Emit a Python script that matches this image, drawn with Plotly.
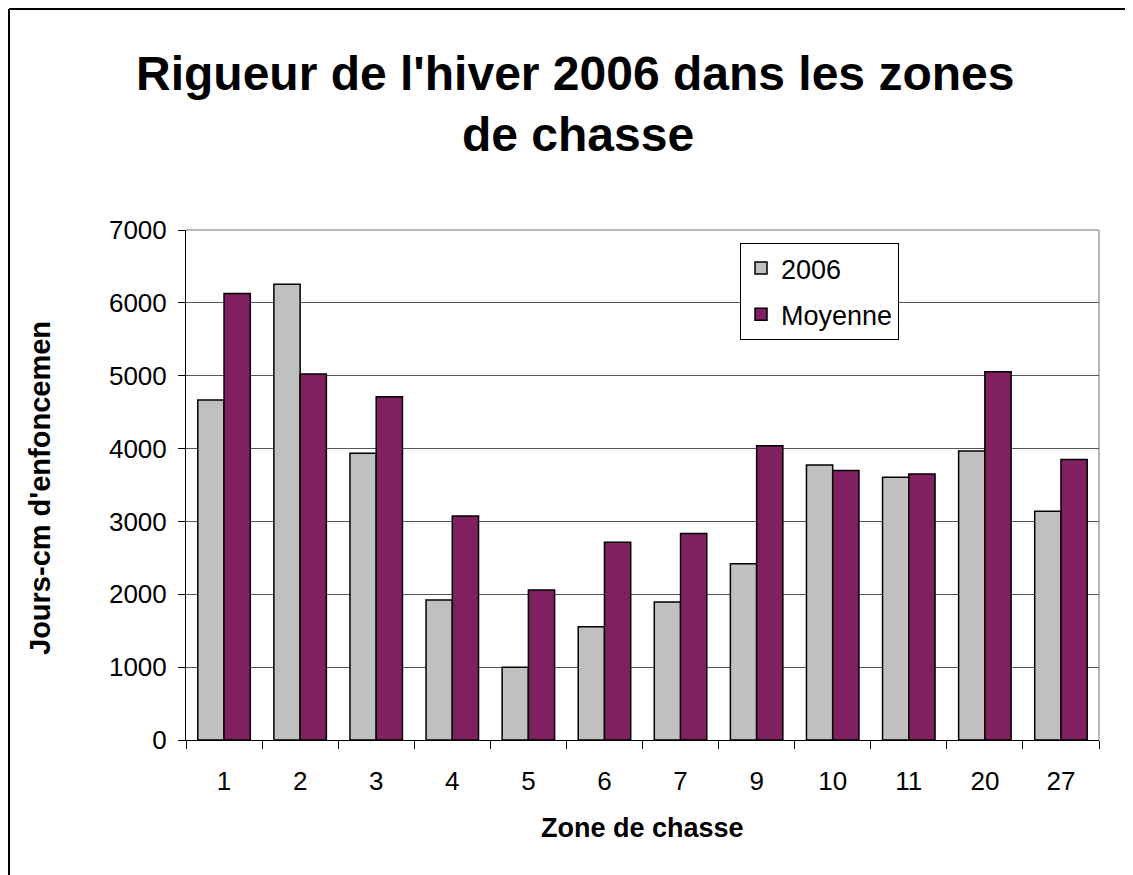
import plotly.graph_objects as go

zones = ["1", "2", "3", "4", "5", "6", "7", "9", "10", "11", "20", "27"]
values_2006 = [4665, 6255, 3935, 1920, 1000, 1555, 1895, 2420, 3775, 3605, 3965, 3140]
values_moyenne = [6130, 5025, 4710, 3075, 2060, 2715, 2835, 4040, 3700, 3650, 5055, 3850]
y_ticks = [0, 1000, 2000, 3000, 4000, 5000, 6000, 7000]

OFF = 8  # page body margin
W, H = 1133 - OFF, 875 - OFF
L, R, T, B = 186 - OFF, 1099 - OFF, 230 - OFF, 740 - OFF


def px_x(p):
    return (p - OFF - L) / (R - L)


def px_y(p):
    return (B - (p - OFF)) / (B - T)


fig = go.Figure()
fig.add_trace(go.Bar(x=zones, y=values_2006, name="2006", legendgroup="a",
                     marker=dict(color="#C0C0C0", line=dict(color="black", width=1.5))))
fig.add_trace(go.Bar(x=zones, y=values_moyenne, name="Moyenne", legendgroup="b",
                     marker=dict(color="#802060", line=dict(color="black", width=1.5))))

fig.update_layout(
    width=W, height=H,
    margin=dict(l=L, r=W - R, t=T, b=H - B, pad=0),
    paper_bgcolor="white", plot_bgcolor="white",
    barmode="group", bargap=0.31, bargroupgap=0,
    font=dict(family="Arial, Liberation Sans, sans-serif", color="black", size=26),
    showlegend=True,
    legend=dict(x=px_x(740), y=px_y(243), xanchor="left", yanchor="top",
                bgcolor="white", bordercolor="black", borderwidth=1,
                font=dict(size=27), itemwidth=30, tracegroupgap=8,
                traceorder="grouped"),
)

fig.update_xaxes(
    type="category", showgrid=False, showline=True, linecolor="black", linewidth=1,
    ticks="outside", tickson="boundaries", ticklen=8, tickcolor="black",
    tickfont=dict(size=26), ticklabelstandoff=18,
)
fig.update_yaxes(
    range=[0, 7000], tickvals=y_ticks, showgrid=True, gridcolor="#555555", gridwidth=1,
    showline=True, linecolor="black", linewidth=1, zeroline=False,
    ticks="outside", ticklen=7, tickcolor="black", tickfont=dict(size=26),
    ticklabelstandoff=6,
)

# plot area border (top/right grey)
fig.add_shape(type="line", xref="paper", yref="paper", x0=0, x1=1, y0=1, y1=1,
              line=dict(color="#A0A0A0", width=1.5), layer="below")
fig.add_shape(type="line", xref="paper", yref="paper", x0=1, x1=1, y0=0, y1=1,
              line=dict(color="#A0A0A0", width=1.5), layer="below")

# chart outer border (top and left visible)
fig.add_shape(type="line", xref="paper", yref="paper", x0=px_x(9), x1=px_x(1140),
              y0=px_y(9), y1=px_y(9), line=dict(color="black", width=2))
fig.add_shape(type="line", xref="paper", yref="paper", x0=px_x(9), x1=px_x(9),
              y0=px_y(9), y1=px_y(880), line=dict(color="black", width=2))

# title lines
fig.add_annotation(text="<b>Rigueur de l'hiver 2006 dans les zones</b>", xref="paper", yref="paper",
                   x=px_x(575), y=px_y(73), showarrow=False, font=dict(size=48),
                   xanchor="center", yanchor="middle")
fig.add_annotation(text="<b>de chasse</b>", xref="paper", yref="paper",
                   x=px_x(578), y=px_y(134), showarrow=False, font=dict(size=48),
                   xanchor="center", yanchor="middle")

# axis titles
fig.add_annotation(text="<b>Zone de chasse</b>", xref="paper", yref="paper",
                   x=px_x(642), y=px_y(828), showarrow=False, font=dict(size=27),
                   xanchor="center", yanchor="middle")
fig.add_annotation(text="<b>Jours-cm d'enfoncemen</b>", xref="paper", yref="paper",
                   x=px_x(40), y=px_y(488), showarrow=False, font=dict(size=29),
                   textangle=-90, xanchor="center", yanchor="middle")

fig.write_html("out.html")
